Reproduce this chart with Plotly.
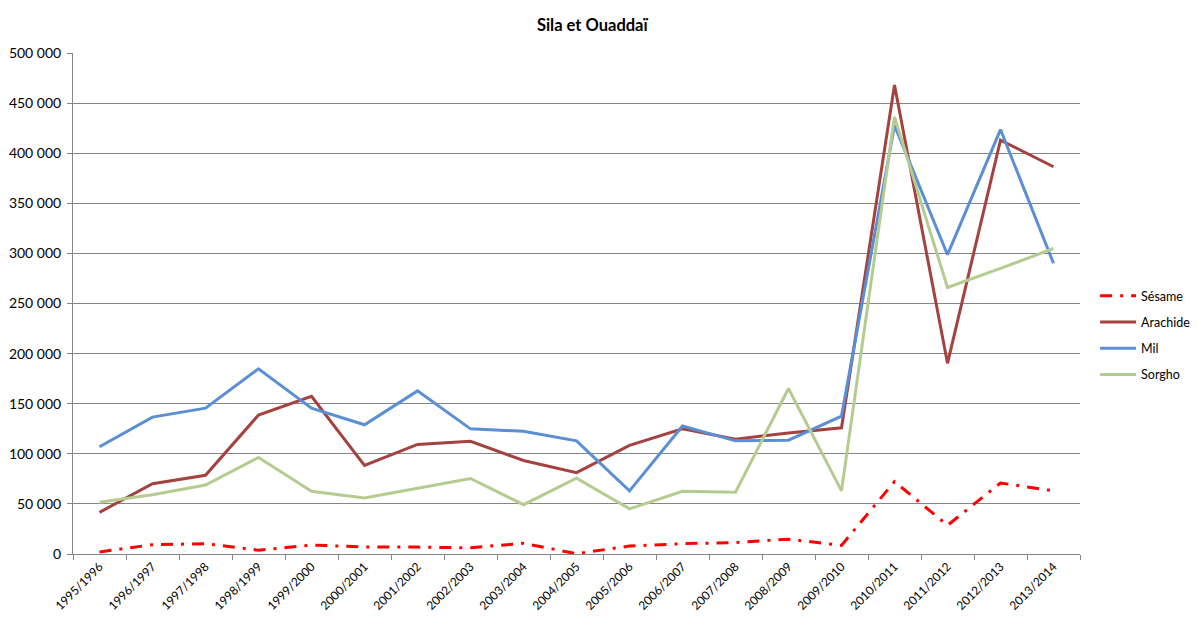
import plotly.graph_objects as go

campagnes = ["1995/1996", "1996/1997", "1997/1998", "1998/1999", "1999/2000",
             "2000/2001", "2001/2002", "2002/2003", "2003/2004", "2004/2005",
             "2005/2006", "2006/2007", "2007/2008", "2008/2009", "2009/2010",
             "2010/2011", "2011/2012", "2012/2013", "2013/2014"]

sesame = [2000, 9300, 10300, 3800, 9000, 6900, 6900, 6200, 10700, 300,
          7900, 10300, 11400, 14800, 8600, 72300, 28600, 70900, 63000]
arachide = [41600, 70200, 78500, 138700, 157300, 88400, 109400, 112500, 93300, 81200,
            108400, 124900, 114600, 120800, 126000, 468000, 190300, 413000, 386500]
mil = [107000, 136600, 145600, 184800, 145600, 129000, 162800, 124900, 122500, 112900,
       63000, 127700, 112900, 113600, 137600, 427700, 298700, 423600, 290100]
sorgho = [51600, 59200, 68800, 96400, 62600, 55800, 65700, 75400, 49200, 75700,
          45100, 62600, 61600, 165200, 63000, 436300, 266000, 285000, 304900]

y_ticks = [0, 50000, 100000, 150000, 200000, 250000, 300000, 350000, 400000, 450000, 500000]

FONT = "Lato, 'Noto Sans', sans-serif"

fig = go.Figure()
series = [
    ("Sésame", sesame, "#FF0000", "12px,8px,3px,8px"),
    ("Arachide", arachide, "#A3423F", "solid"),
    ("Mil", mil, "#5A8FD6", "solid"),
    ("Sorgho", sorgho, "#B5CC90", "solid"),
]
for name, vals, color, dash in series:
    fig.add_trace(go.Scatter(
        x=campagnes, y=vals, name=name, mode="lines",
        line=dict(color=color, width=3, dash=dash),
        legendgroup=name,
    ))

fig.update_layout(
    width=1190, height=613,
    margin=dict(l=65, r=118, t=45, b=67, autoexpand=False),
    paper_bgcolor="white", plot_bgcolor="white",
    separators=", ",
    font=dict(family=FONT, size=13, color="#000000"),
    title=dict(text="<b>Sila et Ouaddaï</b>", x=0.491, xanchor="center",
               y=0.972, yanchor="middle",
               font=dict(family=FONT, size=16.5, color="#000000")),
    showlegend=True,
    legend=dict(x=1.015, xanchor="left", y=0.437, yanchor="middle",
                font=dict(family=FONT, size=12.5, color="#000000"),
                tracegroupgap=7, itemwidth=36, bgcolor="rgba(0,0,0,0)"),
    xaxis=dict(
        type="category", showgrid=False, showline=True, linecolor="#868686",
        linewidth=1, ticks="outside", tickson="boundaries", ticklen=5,
        tickcolor="#868686", tickangle=-45, tickfont=dict(size=12),
        range=[-0.5, len(campagnes) - 0.5], automargin=False,
    ),
    yaxis=dict(
        range=[0, 500000], tickvals=y_ticks, tickformat=",d",
        showgrid=True, gridcolor="#868686", gridwidth=1,
        showline=True, linecolor="#868686", linewidth=1,
        ticks="outside", ticklen=5, tickcolor="#868686",
        zeroline=False, tickfont=dict(size=14), ticklabelstandoff=3,
        automargin=False,
    ),
)

fig.write_html("out.html")
